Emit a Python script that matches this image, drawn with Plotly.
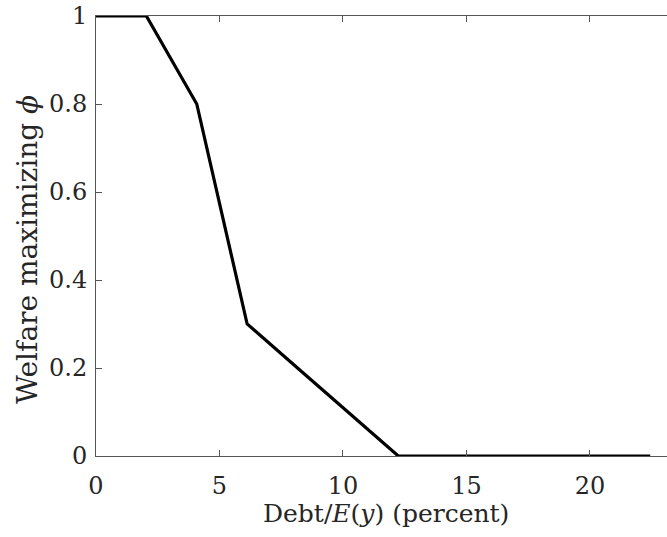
import plotly.graph_objects as go

debt = [0.0, 2.04, 4.08, 6.12, 8.16, 10.20, 12.24, 14.28, 16.32, 18.36, 20.40, 22.44]
phi = [1.0, 1.0, 0.8, 0.3, 0.2, 0.1, 0.0, 0.0, 0.0, 0.0, 0.0, 0.0]

x_ticks = [0, 5, 10, 15, 20]
y_ticks = [0, 0.2, 0.4, 0.6, 0.8, 1]
y_ticklabels = ["0", "0.2", "0.4", "0.6", "0.8", "1"]

x_title = "Debt/<i>E</i>(<i>y</i>) (percent)"
y_title = "Welfare maximizing <i>ϕ</i>"

font_family = "DejaVu Serif, Liberation Serif, serif"
fs = 24

fig = go.Figure()
fig.add_trace(go.Scatter(x=debt, y=phi, mode="lines",
                         line=dict(color="black", width=3.2),
                         showlegend=False, hoverinfo="skip"))

fig.update_layout(
    width=667, height=537,
    margin=dict(l=96, r=0, t=16, b=81),
    paper_bgcolor="white", plot_bgcolor="white",
    font=dict(family=font_family, size=fs, color="#262626"),
)
fig.update_xaxes(
    range=[0, 23.12], tickvals=x_ticks, ticktext=[str(v) for v in x_ticks],
    ticks="inside", ticklen=6, tickwidth=1, tickcolor="#555",
    showline=True, linecolor="#555", linewidth=1, mirror="ticks",
    showgrid=False, zeroline=False, automargin=False,
    ticklabelstandoff=8,
    tickfont=dict(size=fs, family=font_family),
)
fig.update_yaxes(
    range=[0, 1], tickvals=y_ticks, ticktext=y_ticklabels,
    ticks="inside", ticklen=6, tickwidth=1, tickcolor="#555",
    showline=True, linecolor="#555", linewidth=1, mirror=False,
    showgrid=False, zeroline=False, automargin=False,
    ticklabelstandoff=3,
    tickfont=dict(size=fs, family=font_family),
)

# axis titles placed as annotations in paper pixels
fig.add_annotation(text=x_title, xref="paper", yref="paper",
                   x=(386 - 96) / 571, y=-(513 - 456) / 440,
                   xanchor="center", yanchor="middle", showarrow=False,
                   font=dict(size=25, family=font_family, color="#262626"))
fig.add_annotation(text=y_title, xref="paper", yref="paper",
                   x=-(96 - 28) / 571, y=(456 - 250) / 440, textangle=-90,
                   xanchor="center", yanchor="middle", showarrow=False,
                   font=dict(size=28, family=font_family, color="#262626"))

fig.write_html("out.html", config={"displayModeBar": False},
               post_script="document.body.style.margin='0';document.body.style.overflow='hidden';")
